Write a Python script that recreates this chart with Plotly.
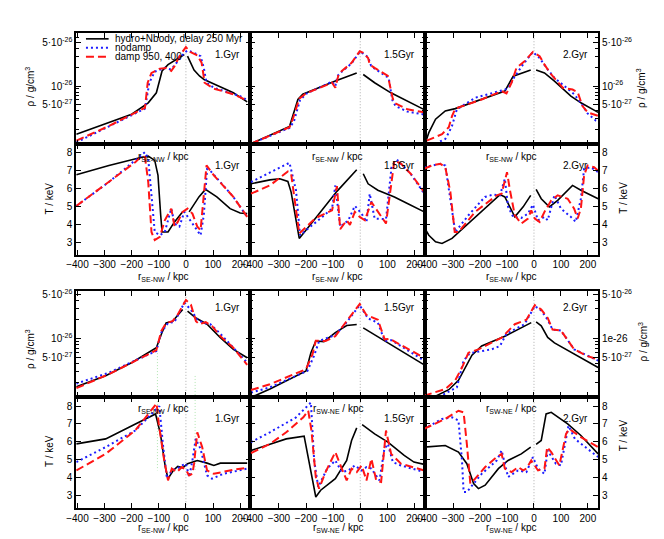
import plotly.graph_objects as go

# ---------------------------------------------------------------- data
# SE-NW cut, density, 1.0 Gyr (upper block)
se_rho_10_hyd_r = [-404, -284, -200, -139, -109, -88, -66, -6, None, 6, 30, 50, 67, 120, 175, 226]
se_rho_10_hyd = [1.7e-27, 2.6e-27, 3.55e-27, 5.4e-27, 7.8e-27, 1.74e-26, 2.2e-26, 3.2e-26, None,
                 3.0e-26, 1.8e-26, 1.45e-26, 1.27e-26, 1.0e-26, 7.8e-27, 5.6e-27]
se_rho_10_nod_r = [-404, -284, -151, -135, -115, -78, -54, -30, -6, 6, 30, 54, 66, 76, 103, 200, 226]
se_rho_10_nod = [1.26e-27, 2.26e-27, 4.36e-27, 1.13e-26, 1.7e-26, 1.95e-26, 1.84e-26, 2.5e-26, 3.4e-26,
                 3.7e-26, 3.4e-26, 3.0e-26, 1.95e-26, 1.13e-26, 9.4e-27, 6.9e-27, 6.0e-27]
se_rho_10_dmp_r = [-404, -284, -151, -141, -127, -96, -72, -54, -42, -24, 0, 16, 42, 58, 69, 103, 175, 226]
se_rho_10_dmp = [1.34e-27, 2.3e-27, 4.5e-27, 1.13e-26, 1.62e-26, 1.9e-26, 1.95e-26, 1.74e-26, 2.08e-26,
                 3.0e-26, 4.2e-26, 3.5e-26, 3.1e-26, 2.35e-26, 1.13e-26, 9.1e-27, 7.4e-27, 5.9e-27]

# SE-NW cut, density, 1.5 Gyr
se_rho_15_hyd_r = [-403, -261, -230, -212, -92, -13, None, 11, 53, 113, 174, 236]
se_rho_15_hyd = [1.2e-27, 2.26e-27, 6.1e-27, 7.4e-27, 1.2e-26, 1.62e-26, None,
                 1.53e-26, 1.13e-26, 7.8e-27, 5.8e-27, 4.2e-27]
se_rho_15_nod_r = [-403, -261, -245, -222, -198, -104, -92, -84, -68, -32, -2, 11, 29, 40, 53, 90, 105,
                   118, 130, 174, 236]
se_rho_15_nod = [1.2e-27, 2.15e-27, 2.7e-27, 6.0e-27, 7.6e-27, 1.18e-26, 1.0e-26, 1.45e-26, 1.7e-26,
                 2.3e-26, 3.5e-26, 3.3e-26, 2.9e-26, 2.1e-26, 1.9e-26, 1.5e-26, 1.35e-26, 6.0e-27,
                 4.8e-27, 3.9e-27, 3.5e-27]
se_rho_15_dmp_r = [-403, -261, -249, -225, -201, -104, -92, -80, -68, -32, -2, 11, 29, 35, 53, 90, 102,
                   120, 126, 174, 236]
se_rho_15_dmp = [1.2e-27, 2.2e-27, 2.95e-27, 6.3e-27, 7.6e-27, 1.13e-26, 9.4e-27, 1.53e-26, 1.74e-26,
                 2.35e-26, 3.6e-26, 3.4e-26, 2.8e-26, 2.2e-26, 1.95e-26, 1.53e-26, 1.45e-26, 6.3e-27,
                 5.4e-27, 4.25e-27, 3.8e-27]

# SE-NW cut, density, 2.0 Gyr
se_rho_20_hyd_r = [-402, -390, -365, -329, -292, -194, -108, -77, -12, None, 8, 39, 76, 137, 174, 238]
se_rho_20_hyd = [1.26e-27, 1.8e-27, 2.95e-27, 4.0e-27, 4.36e-27, 6.1e-27, 8.3e-27, 1.44e-26, 1.8e-26,
                 None, 1.8e-26, 1.62e-26, 1.2e-26, 6.9e-27, 5.4e-27, 3.8e-27]
se_rho_20_nod_r = [-365, -329, -316, -304, -286, -218, -120, -96, -77, -41, -4, 21, 51, 76, 113, 149,
                   174, 199, 230, 238]
se_rho_20_nod = [1.2e-27, 1.43e-27, 1.8e-27, 2.3e-27, 4.25e-27, 6.5e-27, 8.5e-27, 9.1e-27, 1.3e-26,
                 2.2e-26, 3.5e-26, 2.8e-26, 1.84e-26, 1.35e-26, 1.0e-26, 7.4e-27, 5.4e-27, 3.65e-27,
                 2.8e-27, 2.75e-27]
se_rho_20_dmp_r = [-398, -341, -316, -304, -292, -194, -120, -102, -83, -65, -35, -4, 21, 39, 64, 107,
                   143, 162, 180, 199, 238]
se_rho_20_dmp = [1.34e-27, 1.7e-27, 2.2e-27, 3.3e-27, 4.36e-27, 6.1e-27, 8.3e-27, 7.6e-27, 1.13e-26,
                 1.95e-26, 2.5e-26, 3.5e-26, 3.0e-26, 2.2e-26, 1.53e-26, 9.4e-27, 8.8e-27, 8.0e-27,
                 4.8e-27, 3.8e-27, 3.35e-27]

# SE-NW cut, temperature, 1.0 Gyr
se_t_10_hyd_r = [-404, -284, -163, -139, -115, -103, -93, -88, -66, -42, -12, None, 12, 48, 72, 114,
                 163, 200, 226]
se_t_10_hyd = [6.78, 7.3, 7.76, 7.82, 7.58, 6.75, 4.53, 3.6, 3.6, 4.16, 4.72, None, 4.72, 5.55, 5.97,
               5.55, 4.9, 4.66, 4.62]
se_t_10_nod_r = [-404, -284, -151, -139, -115, -96, -78, -54, -42, -24, -6, 12, 30, 54, 66, 78, 90,
                 175, 226]
se_t_10_nod = [5.05, 6.38, 8.04, 7.67, 3.6, 3.42, 3.6, 4.9, 4.07, 3.9, 4.72, 4.35, 3.98, 3.42, 4.53,
               7.1, 7.0, 5.55, 4.44]
se_t_10_dmp_r = [-404, -284, -187, -163, -151, -139, -127, -115, -96, -78, -54, -42, -30, -12, 6, 24,
                 42, 54, 66, 76, 103, 175, 226]
se_t_10_dmp = [5.05, 6.38, 7.48, 7.82, 7.76, 6.38, 3.6, 3.15, 3.33, 4.25, 4.9, 3.9, 4.16, 4.72, 4.9,
               4.62, 3.9, 3.7, 5.45, 7.3, 6.75, 5.55, 4.44]

# SE-NW cut, temperature, 1.5 Gyr
se_t_15_hyd_r = [-403, -333, -297, -267, -255, -225, -176, -86, -13, None, 11, 29, 65, 126, 174, 236]
se_t_15_hyd = [6.28, 6.5, 6.56, 6.41, 5.82, 3.24, 4.16, 5.86, 7.06, None, 6.84, 6.28, 5.92, 5.55,
               5.18, 4.72]
se_t_15_nod_r = [-403, -333, -261, -237, -222, -140, -104, -92, -74, -44, -20, 5, 23, 35, 53, 95, 116,
                 138, 186, 236]
se_t_15_nod = [6.38, 6.93, 7.45, 5.92, 3.42, 4.44, 4.9, 6.19, 3.89, 4.25, 5.05, 4.62, 4.16, 5.73,
               4.35, 4.31, 7.3, 7.58, 6.84, 5.73]
se_t_15_dmp_r = [-403, -333, -267, -255, -225, -164, -104, -86, -74, -50, -38, -20, -2, 17, 41, 65,
                 95, 126, 150, 186, 236]
se_t_15_dmp = [5.73, 6.19, 6.97, 6.84, 3.52, 4.38, 4.8, 6.15, 3.76, 4.25, 4.0, 4.72, 4.44, 4.25,
               5.27, 4.72, 4.07, 7.58, 7.4, 6.84, 5.82]

# SE-NW cut, temperature, 2.0 Gyr
se_t_20_hyd_r = [-408, -390, -365, -341, -304, -218, -157, -126, -108, -71, -40, -12, None, 8, 27, 57,
                 88, 143, 174, 238]
se_t_20_hyd = [3.89, 3.42, 3.05, 2.96, 3.24, 4.44, 5.27, 5.68, 5.55, 4.44, 5.0, 5.64, None, 5.97,
               5.45, 5.0, 5.36, 6.19, 5.92, 5.45]
se_t_20_nod_r = [-408, -347, -329, -304, -292, -243, -182, -151, -126, -108, -96, -77, -47, -22, -4,
                 15, 39, 51, 76, 100, 137, 155, 174, 186, 211, 238]
se_t_20_nod = [7.2, 7.39, 7.3, 4.72, 3.6, 4.53, 5.55, 5.68, 5.64, 6.56, 5.0, 4.44, 4.38, 4.62, 5.12,
               4.25, 4.44, 4.25, 5.64, 4.9, 4.44, 4.16, 5.45, 7.11, 7.2, 6.93]
se_t_20_dmp_r = [-408, -378, -347, -329, -310, -294, -280, -218, -138, -120, -100, -89, -71, -47, -22,
                 -10, 3, 21, 39, 64, 88, 125, 149, 162, 174, 186, 199, 223, 238]
se_t_20_dmp = [7.11, 7.3, 7.39, 7.2, 5.82, 3.6, 3.6, 4.72, 5.64, 5.73, 6.93, 5.92, 4.53, 4.07, 4.35,
               4.8, 4.35, 4.16, 4.72, 5.36, 5.64, 5.45, 4.9, 4.35, 4.9, 6.75, 7.3, 7.2, 7.0]

# lower block: SE-NW 1.0 Gyr, density
lo_rho_10_hyd_r = [-404, -296, -199, -109, -91, -73, -49, -12, None, 6, 37, 78, 127, 175, 226]
lo_rho_10_hyd = [1.74e-27, 2.6e-27, 4.2e-27, 7.2e-27, 1.17e-26, 1.78e-26, 1.9e-26, 2.9e-26, None,
                 2.73e-26, 2.13e-26, 1.7e-26, 1.04e-26, 6.8e-27, 5.0e-27]
lo_rho_10_nod_r = [-404, -284, -199, -109, -91, -66, -42, -6, 18, 42, 66, 90, 127, 187, 226]
lo_rho_10_nod = [1.95e-27, 2.9e-27, 4.3e-27, 6.4e-27, 1.25e-26, 1.78e-26, 1.85e-26, 3.7e-26, 2.9e-26,
                 2.0e-26, 1.78e-26, 1.7e-26, 1.2e-26, 6.5e-27, 4.2e-27]
lo_rho_10_dmp_r = [-404, -284, -199, -109, -91, -73, -49, -30, 0, 18, 37, 49, 73, 97, 127, 175, 226]
lo_rho_10_dmp = [1.65e-27, 2.75e-27, 4.2e-27, 6.6e-27, 1.32e-26, 1.78e-26, 1.9e-26, 2.42e-26, 4.1e-26,
                 3.5e-26, 1.9e-26, 1.7e-26, 1.83e-26, 1.58e-26, 1.1e-26, 7.2e-27, 3.85e-27]

# SW-NE cut, density, 1.5 Gyr
sw_rho_15_hyd_r = [-403, -333, -200, -182, -164, -134, -92, -50, -13, None, 11, 90, 236]
sw_rho_15_hyd = [1.18e-27, 1.6e-27, 3.1e-27, 6.0e-27, 9.2e-27, 9.0e-27, 1.25e-26, 1.62e-26, 1.68e-26,
                 None, 1.49e-26, 9.2e-27, 3.85e-27]
sw_rho_15_nod_r = [-403, -333, -195, -170, -152, -92, -56, -2, 29, 65, 90, 115, 236]
sw_rho_15_nod = [1.4e-27, 1.7e-27, 3.1e-27, 5.4e-27, 9.2e-27, 1.15e-26, 1.7e-26, 3.4e-26, 2.1e-26,
                 1.8e-26, 9.2e-27, 9.5e-27, 4.5e-27]
sw_rho_15_dmp_r = [-403, -333, -200, -176, -164, -128, -92, -68, -38, -2, 22, 65, 90, 108, 236]
sw_rho_15_dmp = [1.54e-27, 1.9e-27, 3.3e-27, 5.7e-27, 9.3e-27, 9.2e-27, 1.1e-26, 1.5e-26, 2.3e-26,
                 3.56e-26, 2.4e-26, 2.0e-26, 9.8e-27, 1.0e-26, 5.0e-27]

# SW-NE cut, density, 2.0 Gyr
sw_rho_20_hyd_r = [-371, -316, -280, -250, -230, -194, -108, -10, None, 8, 27, 51, 76, 238]
sw_rho_20_hyd = [1.2e-27, 1.56e-27, 2.2e-27, 3.7e-27, 5.5e-27, 7.7e-27, 1.1e-26, 1.8e-26, None,
                 1.85e-26, 1.6e-26, 1.05e-26, 8.6e-27, 3.5e-27]
sw_rho_20_nod_r = [-353, -286, -261, -243, -230, -157, -126, -102, -35, 3, 27, 51, 69, 100, 149, 238]
sw_rho_20_nod = [1.2e-27, 1.7e-27, 4.5e-27, 5.6e-27, 6.0e-27, 6.8e-27, 7.7e-27, 1.2e-26, 1.7e-26,
                 3.3e-26, 2.8e-26, 2.0e-26, 1.4e-26, 1.35e-26, 6.8e-27, 4.5e-27]
sw_rho_20_dmp_r = [-408, -329, -292, -267, -243, -206, -120, -71, -28, 3, 27, 51, 69, 100, 149, 199, 238]
sw_rho_20_dmp = [1.25e-27, 1.6e-27, 2.2e-27, 3.5e-27, 6.0e-27, 6.8e-27, 1.04e-26, 1.7e-26, 2.0e-26,
                 3.4e-26, 2.9e-26, 2.14e-26, 1.4e-26, 1.35e-26, 6.8e-27, 5.3e-27, 4.7e-27]

# lower block: SE-NW 1.0 Gyr, temperature
lo_t_10_hyd_r = [-404, -296, -199, -112, -94, -76, -66, -46, -30, -12, 6, 42, 78, 103, 127, 226]
lo_t_10_hyd = [5.88, 6.16, 6.9, 7.56, 6.44, 4.58, 3.93, 4.4, 4.62, 4.54, 4.77, 4.95, 4.8, 4.67, 4.8, 4.8]
lo_t_10_nod_r = [-404, -296, -187, -98, -85, -70, -52, -33, -15, 0, 12, 24, 36, 54, 78, 96, 139, 226]
lo_t_10_nod = [4.86, 5.7, 6.63, 8.0, 5.88, 3.93, 4.39, 4.49, 4.67, 4.77, 4.02, 4.95, 6.16, 5.6, 4.11,
               3.93, 4.2, 4.49]
lo_t_10_dmp_r = [-404, -296, -187, -108, -100, -82, -66, -52, -33, -15, 0, 12, 24, 30, 42, 60, 78,
                 103, 175, 226]
lo_t_10_dmp = [4.39, 5.32, 6.63, 8.15, 7.0, 5.14, 3.83, 4.49, 4.3, 4.58, 4.43, 4.11, 4.2, 4.77, 6.53,
               5.7, 4.39, 4.2, 4.43, 4.54]

# SW-NE cut, temperature, 1.5 Gyr
sw_t_15_hyd_r = [-403, -333, -273, -207, -164, -146, -92, -50, -32, -13, None, 7, 53, 102, 162, 198, 236]
sw_t_15_hyd = [5.51, 5.88, 6.16, 6.31, 2.9, 3.28, 3.93, 4.95, 6.07, 6.78, None, 6.96, 6.44, 5.98,
               5.23, 4.86, 4.73]
sw_t_15_nod_r = [-403, -333, -237, -182, -170, -155, -122, -92, -68, -44, -20, 5, 23, 41, 71, 89, 102,
                 120, 150, 236]
sw_t_15_nod = [5.98, 6.53, 7.37, 8.2, 4.95, 3.46, 4.49, 4.95, 4.3, 4.39, 4.67, 4.39, 4.58, 4.49, 3.83,
               5.6, 5.88, 4.86, 4.67, 4.3]
sw_t_15_dmp_r = [-403, -333, -273, -210, -192, -180, -164, -152, -128, -92, -68, -50, -32, -13, 5, 23,
                 41, 59, 77, 95, 114, 150, 236]
sw_t_15_dmp = [5.36, 5.88, 6.53, 7.37, 7.74, 6.63, 4.02, 3.37, 4.3, 5.42, 4.49, 3.83, 4.49, 4.3, 4.67,
               3.83, 5.05, 3.83, 3.74, 6.63, 5.32, 4.77, 4.39]

# SW-NE cut, temperature, 2.0 Gyr
sw_t_20_hyd_r = [-408, -329, -280, -249, -224, -206, -181, -132, -96, -47, -12, None, 8, 27, 45, 64,
                 125, 174, 238]
sw_t_20_hyd = [5.7, 5.79, 5.42, 4.77, 3.65, 3.37, 3.56, 4.49, 4.95, 5.32, 5.7, None, 5.85, 6.07, 7.56,
               7.65, 7.0, 6.35, 5.32]
sw_t_20_nod_r = [-408, -341, -304, -280, -267, -261, -249, -194, -138, -120, -96, -59, -28, -4, 15, 39,
                 51, 81, 100, 128, 152, 201, 238]
sw_t_20_nod = [6.72, 7.28, 7.37, 7.19, 4.95, 3.18, 3.18, 4.2, 4.95, 5.51, 4.02, 4.39, 4.3, 5.14, 4.49,
               4.2, 5.51, 4.77, 4.67, 6.9, 6.16, 5.6, 5.14]
sw_t_20_dmp_r = [-408, -329, -280, -261, -249, -236, -218, -181, -138, -120, -108, -83, -59, -40, -28,
                 -10, 15, 39, 49, 64, 94, 119, 131, 174, 238]
sw_t_20_dmp = [6.72, 7.28, 7.74, 7.65, 5.88, 3.65, 3.93, 4.58, 5.14, 5.32, 4.49, 4.3, 4.58, 4.39, 4.49,
               4.95, 4.39, 4.49, 5.7, 5.42, 4.67, 6.44, 6.72, 6.26, 5.7]

x_ticks = [-400, -300, -200, -100, 0, 100, 200]
t_ticks = [3, 4, 5, 6, 7, 8]
rho_ticks = [5e-27, 1e-26, 5e-26]
rho_minor = [2e-27, 3e-27, 4e-27, 6e-27, 7e-27, 8e-27, 9e-27, 2e-26, 3e-26, 4e-26, 6e-26, 7e-26]
time_labels = ["1.Gyr", "1.5Gyr", "2.Gyr"]
legend_names = ["hydro+Nbody, delay 250 Myr", "nodamp", "damp 950, 400"]

# ---------------------------------------------------------------- layout
W, H = 664, 539
OFF = 8  # page body margin shifts the plot div
FONT = "Liberation Sans, Arial, sans-serif"
FS = 10
COL_PX = [(67, 244), (244, 421), (421, 597)]
ROW_PX = [(30, 142), (142, 253), (290, 396), (396, 508)]
ROW_RANGE = [[-26.93, -25.15], [2.34, 8.48], [-26.92, -25.25], [2.27, 8.52]]
XR = [-405, 238]

HYDRO = dict(color="black", width=1.6)
NODAMP = dict(color="#1c1cff", width=2, dash="2px,3px")
DAMP = dict(color="#ff1414", width=2, dash="8px,4px")

panels = [
    (se_rho_10_hyd_r, se_rho_10_hyd, se_rho_10_nod_r, se_rho_10_nod, se_rho_10_dmp_r, se_rho_10_dmp),
    (se_rho_15_hyd_r, se_rho_15_hyd, se_rho_15_nod_r, se_rho_15_nod, se_rho_15_dmp_r, se_rho_15_dmp),
    (se_rho_20_hyd_r, se_rho_20_hyd, se_rho_20_nod_r, se_rho_20_nod, se_rho_20_dmp_r, se_rho_20_dmp),
    (se_t_10_hyd_r, se_t_10_hyd, se_t_10_nod_r, se_t_10_nod, se_t_10_dmp_r, se_t_10_dmp),
    (se_t_15_hyd_r, se_t_15_hyd, se_t_15_nod_r, se_t_15_nod, se_t_15_dmp_r, se_t_15_dmp),
    (se_t_20_hyd_r, se_t_20_hyd, se_t_20_nod_r, se_t_20_nod, se_t_20_dmp_r, se_t_20_dmp),
    (lo_rho_10_hyd_r, lo_rho_10_hyd, lo_rho_10_nod_r, lo_rho_10_nod, lo_rho_10_dmp_r, lo_rho_10_dmp),
    (sw_rho_15_hyd_r, sw_rho_15_hyd, sw_rho_15_nod_r, sw_rho_15_nod, sw_rho_15_dmp_r, sw_rho_15_dmp),
    (sw_rho_20_hyd_r, sw_rho_20_hyd, sw_rho_20_nod_r, sw_rho_20_nod, sw_rho_20_dmp_r, sw_rho_20_dmp),
    (lo_t_10_hyd_r, lo_t_10_hyd, lo_t_10_nod_r, lo_t_10_nod, lo_t_10_dmp_r, lo_t_10_dmp),
    (sw_t_15_hyd_r, sw_t_15_hyd, sw_t_15_nod_r, sw_t_15_nod, sw_t_15_dmp_r, sw_t_15_dmp),
    (sw_t_20_hyd_r, sw_t_20_hyd, sw_t_20_nod_r, sw_t_20_nod, sw_t_20_dmp_r, sw_t_20_dmp),
]


def suffix(k):
    return "" if k == 1 else str(k)


def px_x(p):
    return (p - OFF) / W


def px_y(p):
    return 1 - (p - OFF) / H


fig = go.Figure()
layout = {}
shapes = []
annotations = []

for idx, data in enumerate(panels):
    k = idx + 1
    row, col = divmod(idx, 3)
    s = suffix(k)
    is_rho = row in (0, 2)

    for (r, v), style in zip([(data[0], data[1]), (data[2], data[3]), (data[4], data[5])],
                             [HYDRO, NODAMP, DAMP]):
        fig.add_trace(go.Scatter(x=r, y=v, mode="lines", line=style, xaxis="x" + s, yaxis="y" + s,
                                 showlegend=False, hoverinfo="skip"))

    c0, c1 = COL_PX[col]
    r0, r1 = ROW_PX[row]
    layout["xaxis" + s] = dict(
        domain=[px_x(c0), px_x(c1)], range=XR, anchor="y" + s,
        tickmode="array", tickvals=x_ticks, ticks="inside", ticklen=5, tickcolor="black",
        mirror="ticks", showline=True, linecolor="black", linewidth=1.5,
        showgrid=False, zeroline=False, showticklabels=row in (1, 3), tickangle=0,
        tickfont=dict(size=FS, color="black"),
    )
    ya = dict(
        domain=[px_y(r1), px_y(r0)], range=ROW_RANGE[row], anchor="x" + s,
        ticks="inside", ticklen=5, tickcolor="black", mirror="ticks", showline=True,
        linecolor="black", linewidth=1.5, showgrid=False, zeroline=False,
        showticklabels=col != 1, side="right" if col == 2 else "left",
        tickfont=dict(size=FS, color="black"),
    )
    if is_rho:
        mid = "1e-26" if (row == 2 and col == 2) else "10<sup>-26</sup>"
        ya.update(type="log", tickmode="array", tickvals=rho_ticks,
                  ticktext=["5·10<sup>-27</sup>", mid, "5·10<sup>-26</sup>"],
                  minor=dict(tickmode="array", tickvals=rho_minor, ticks="inside", ticklen=3,
                             tickcolor="black"))
    else:
        ya.update(tickmode="array", tickvals=t_ticks)
    layout["yaxis" + s] = ya

    # dotted line at r = 0
    shapes.append(dict(type="line", xref="x" + s, yref="y" + s + " domain", x0=0, x1=0, y0=0, y1=1,
                       line=dict(color="#999999", width=0.8, dash="1px,2px"), layer="below"))

    # time label
    tx = [235, 413, 589][col]
    ty = [52, 163, 306, 418][row]
    annotations.append(dict(x=px_x(tx), y=px_y(ty), xref="paper", yref="paper", text=time_labels[col],
                            showarrow=False, xanchor="right", yanchor="middle",
                            font=dict(size=FS, color="black")))

# faint green guides in lower-left panels
for gx, gy0 in [(-105, 352), (34, 375)]:
    shapes.append(dict(type="line", xref="x7", yref="paper", x0=gx, x1=gx, y0=px_y(gy0), y1=px_y(470),
                       line=dict(color="#9fe09f", width=0.8, dash="1px,2px"), layer="below"))

# x axis titles
se = "r<sub>SE-NW</sub> / kpc"
sw = "r<sub>SW-NE</sub> / kpc"
centers = [(c0 + c1) / 2 for c0, c1 in COL_PX]
for col, cx in enumerate(centers):
    for ty, txt in [(155, se), (275, se), (408, se if col == 0 else sw), (528, se if col == 0 else sw)]:
        annotations.append(dict(x=px_x(cx), y=px_y(ty), xref="paper", yref="paper", text=txt,
                                showarrow=False, xanchor="center", yanchor="middle",
                                font=dict(size=FS, color="black")))

# y axis titles
rho_lab = "ρ / g/cm<sup>3</sup>"
t_lab = "T / keV"
for tx, ty, txt in [(20, 84, rho_lab), (40, 197, t_lab), (20, 348, rho_lab), (40, 451, t_lab),
                    (640, 85, rho_lab), (623, 196, t_lab), (643, 340, rho_lab), (623, 435, t_lab)]:
    annotations.append(dict(x=px_x(tx), y=px_y(ty), xref="paper", yref="paper", text=txt,
                            showarrow=False, textangle=-90, xanchor="center", yanchor="middle",
                            font=dict(size=FS, color="black")))

# legend (top-left panel)
for i, (name, style) in enumerate(zip(legend_names, [HYDRO, NODAMP, DAMP])):
    ly = 36 + 9 * i
    shapes.append(dict(type="line", xref="paper", yref="paper", x0=px_x(77), x1=px_x(100),
                       y0=px_y(ly), y1=px_y(ly), line=style))
    annotations.append(dict(x=px_x(104), y=px_y(ly), xref="paper", yref="paper", text=name,
                            showarrow=False, xanchor="left", yanchor="middle",
                            font=dict(size=FS, color="black")))

fig.update_layout(
    width=W, height=H,
    margin=dict(l=0, r=0, t=0, b=0),
    paper_bgcolor="white", plot_bgcolor="white",
    font=dict(family=FONT, size=FS, color="black"),
    showlegend=False,
    shapes=shapes, annotations=annotations,
    **layout,
)

fig.write_html("out.html")
